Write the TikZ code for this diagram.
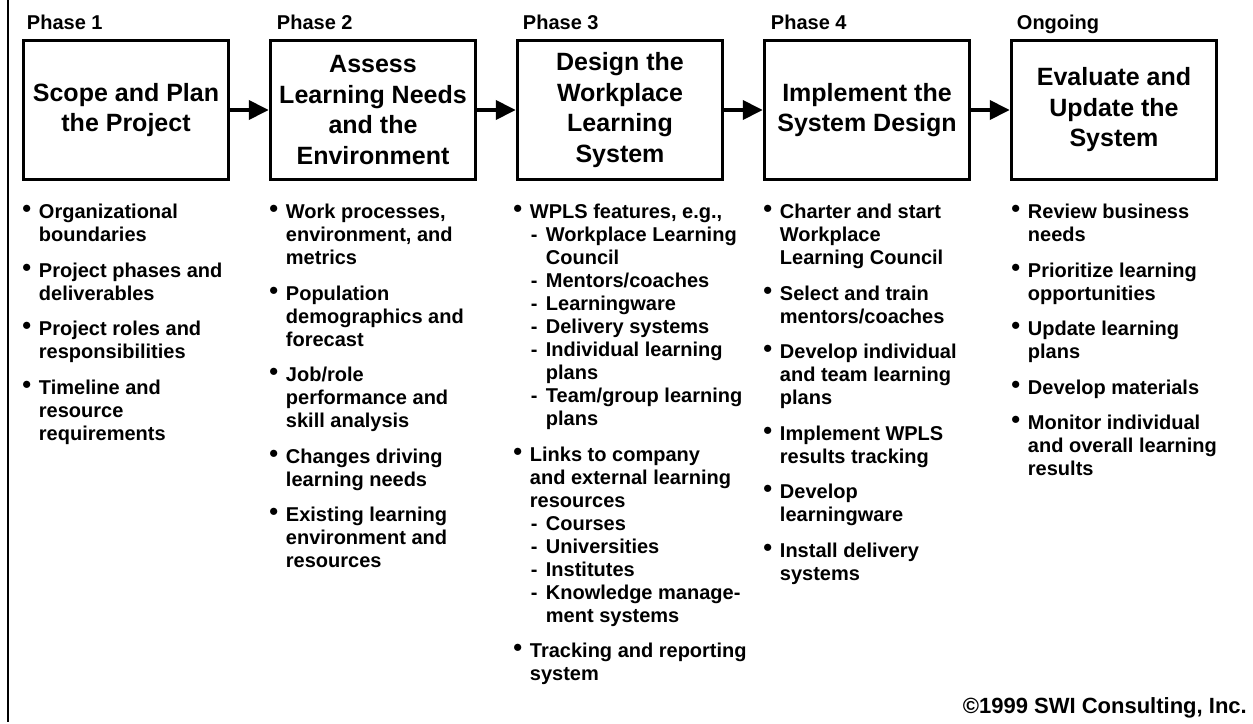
\documentclass[tikz,border=0pt]{standalone}
\usepackage{fontspec}
\setmainfont{Liberation Sans}
\usetikzlibrary{arrows.meta,positioning,calc}

% bullet and dash markers hanging left of the text
\newcommand{\bitem}{\makebox[0pt][r]{\raisebox{5pt}{\scalebox{0.9}{$\bullet$}}\hspace{7.5pt}}}
\newcommand{\ditem}{\hspace*{16pt}\makebox[0pt][r]{-\hspace{8.5pt}}}
\newcommand{\dcont}{\hspace*{16pt}}

\begin{document}
\begin{tikzpicture}

% Define styles
\tikzstyle{phasebox} = [rectangle, minimum width=205pt, minimum height=139pt, text centered, align=center, draw=black, line width=3.5pt, font=\fontsize{25}{30.5}\selectfont\bfseries]
\tikzstyle{phaselabel} = [anchor=base west, inner sep=0pt, font=\fontsize{20}{24}\selectfont\bfseries]
\tikzstyle{list} = [anchor=north west, inner sep=0pt, align=left, font=\fontsize{20}{23}\selectfont\bfseries]
\tikzstyle{phasearrow} = [line width=4pt, -{Triangle[length=20pt,width=19pt]}]

\useasboundingbox (0,0) rectangle (1253pt,-723pt);

% left frame line
\draw [line width=2.5pt] (8pt,0pt) -- (8pt,-722pt);

% PHASE BOXES
\node (p1) [phasebox] at (126pt,-110pt) {Scope and Plan\\the Project};
\node (p2) [phasebox, right=38.5pt of p1] {Assess\\Learning Needs\\and the\\Environment};
\node (p3) [phasebox, right=38.5pt of p2] {Design the\\Workplace\\Learning\\System};
\node (p4) [phasebox, right=38.5pt of p3] {Implement the\\System Design};
\node (p5) [phasebox, right=38.5pt of p4] {Evaluate and\\Update the\\System};

% Phase labels
\node (lab1) [phaselabel] at ($(p1.north west)+(5pt,9.5pt)$) {Phase 1};
\node (lab2) [phaselabel] at ($(p2.north west)+(8pt,9.5pt)$) {Phase 2};
\node (lab3) [phaselabel] at ($(p3.north west)+(7pt,9.5pt)$) {Phase 3};
\node (lab4) [phaselabel] at ($(p4.north west)+(8pt,9.5pt)$) {Phase 4};
\node (lab5) [phaselabel] at ($(p5.north west)+(7pt,9.5pt)$) {Ongoing};

% Arrows between phases
\draw [phasearrow] (p1.east) -- (p2.west);
\draw [phasearrow] (p2.east) -- (p3.west);
\draw [phasearrow] (p3.east) -- (p4.west);
\draw [phasearrow] (p4.east) -- (p5.west);

% Task lists under each phase
\node (list1) [list] at ($(p1.south west)+(17pt,-21pt)$) {\strut\bitem Organizational\\boundaries\\[12.5pt]
\bitem Project phases and\\deliverables\\[12.5pt]
\bitem Project roles and\\responsibilities\\[12.5pt]
\bitem Timeline and\\resource\\requirements};

\node (list2) [list] at ($(p2.south west)+(17pt,-21pt)$) {\strut\bitem Work processes,\\environment, and\\metrics\\[12.5pt]
\bitem Population\\demographics and\\forecast\\[12.5pt]
\bitem Job/role\\performance and\\skill analysis\\[12.5pt]
\bitem Changes driving\\learning needs\\[12.5pt]
\bitem Existing learning\\environment and\\resources};

\node (list3) [list] at ($(p3.south west)+(14pt,-21pt)$) {\strut\bitem WPLS features, e.g.,\\
\ditem Workplace Learning\\\dcont Council\\
\ditem Mentors/coaches\\
\ditem Learningware\\
\ditem Delivery systems\\
\ditem Individual learning\\\dcont plans\\
\ditem Team/group learning\\\dcont plans\\[12.5pt]
\bitem Links to company\\and external learning\\resources\\
\ditem Courses\\
\ditem Universities\\
\ditem Institutes\\
\ditem Knowledge manage-\\\dcont ment systems\\[12.5pt]
\bitem Tracking and reporting\\system};

\node (list4) [list] at ($(p4.south west)+(17pt,-21pt)$) {\strut\bitem Charter and start\\Workplace\\Learning Council\\[12.5pt]
\bitem Select and train\\mentors/coaches\\[12.5pt]
\bitem Develop individual\\and team learning\\plans\\[12.5pt]
\bitem Implement WPLS\\results tracking\\[12.5pt]
\bitem Develop\\learningware\\[12.5pt]
\bitem Install delivery\\systems};

\node (list5) [list] at ($(p5.south west)+(18pt,-21pt)$) {\strut\bitem Review business\\needs\\[12.5pt]
\bitem Prioritize learning\\opportunities\\[12.5pt]
\bitem Update learning\\plans\\[12.5pt]
\bitem Develop materials\\[12.5pt]
\bitem Monitor individual\\and overall learning\\results};

% Copyright
\node (copy) [anchor=base east, inner sep=0pt, font=\fontsize{22}{26}\selectfont\bfseries] at (1247pt,-713pt) {©1999 SWI Consulting, Inc.};

\end{tikzpicture}
\end{document}
